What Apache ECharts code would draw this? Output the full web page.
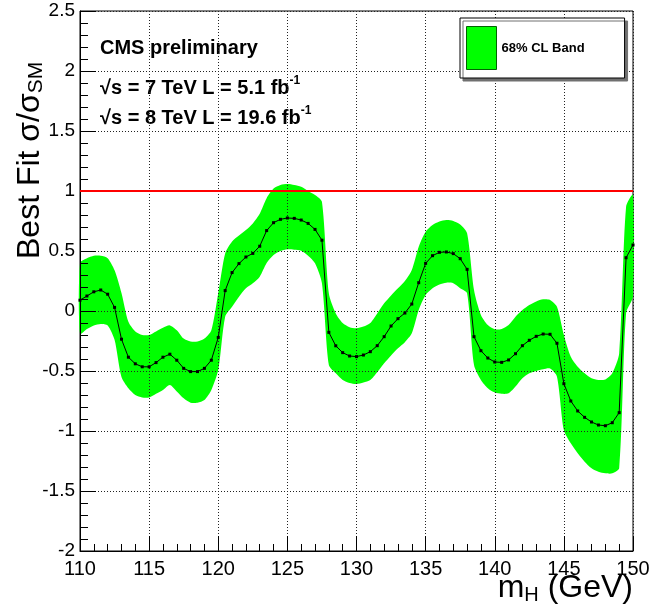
<!DOCTYPE html>
<html>
<head>
<meta charset="utf-8">
<script src="https://cdn.jsdelivr.net/npm/echarts@6/dist/echarts.min.js"></script>
<style>
html,body{margin:0;padding:0;background:#fff;}
#chart{width:653px;height:613px;}
</style>
</head>
<body>
<div id="chart"></div>
<script>
const mass = [110,110.5,111,111.5,112,112.5,113,113.5,114,114.5,
115,115.5,116,116.5,117,117.5,118,118.5,119,119.5,
120,120.5,121,121.5,122,122.5,123,123.5,124,124.5,
125,125.5,126,126.5,127,127.5,128,128.5,129,129.5,
130,130.5,131,131.5,132,132.5,133,133.5,134,134.5,
135,135.5,136,136.5,137,137.5,138,138.5,139,139.5,
140,140.5,141,141.5,142,142.5,143,143.5,144,144.5,
145,145.5,146,146.5,147,147.5,148,148.5,149,149.5,
150];
const bestFit = [0.09,0.125,0.16,0.175,0.14,0.03,-0.235,-0.385,-0.44,-0.465,
-0.465,-0.43,-0.385,-0.36,-0.41,-0.478,-0.505,-0.505,-0.478,-0.41,
-0.22,0.17,0.32,0.395,0.45,0.48,0.54,0.67,0.736,0.764,
0.775,0.772,0.758,0.73,0.68,0.59,-0.178,-0.29,-0.347,-0.375,
-0.38,-0.367,-0.339,-0.289,-0.214,-0.125,-0.064,-0.017,0.058,0.236,
0.397,0.461,0.489,0.492,0.478,0.436,0.347,-0.214,-0.331,-0.392,
-0.425,-0.428,-0.408,-0.356,-0.289,-0.244,-0.211,-0.192,-0.194,-0.269,
-0.606,-0.75,-0.833,-0.886,-0.925,-0.95,-0.956,-0.931,-0.847,0.444,
0.55];
const bandHigh = [0.40,0.44,0.46,0.46,0.44,0.34,0.15,-0.09,-0.17,-0.2,
-0.2,-0.17,-0.14,-0.12,-0.16,-0.23,-0.255,-0.255,-0.23,-0.16,
0.15,0.48,0.58,0.63,0.675,0.73,0.81,0.94,1.02,1.05,
1.058,1.05,1.036,1.0,0.967,0.91,0.147,-0.02,-0.1,-0.135,
-0.144,-0.13,-0.1,-0.02,0.064,0.13,0.189,0.25,0.342,0.536,
0.661,0.717,0.745,0.758,0.75,0.72,0.647,0.175,-0.033,-0.117,
-0.153,-0.15,-0.117,-0.047,0.008,0.05,0.08,0.097,0.092,0.036,
-0.2,-0.381,-0.464,-0.519,-0.561,-0.575,-0.57,-0.519,-0.353,0.869,
0.967];
const bandLow = [-0.19,-0.15,-0.12,-0.108,-0.12,-0.24,-0.55,-0.644,-0.70,-0.72,
-0.72,-0.69,-0.658,-0.617,-0.67,-0.728,-0.764,-0.764,-0.742,-0.658,
-0.49,-0.047,0.036,0.119,0.189,0.231,0.286,0.40,0.467,0.50,
0.514,0.51,0.503,0.46,0.397,0.231,-0.45,-0.519,-0.575,-0.6,
-0.608,-0.595,-0.575,-0.51,-0.436,-0.37,-0.311,-0.26,-0.186,0.008,
0.133,0.189,0.22,0.236,0.231,0.189,0.147,-0.45,-0.575,-0.644,
-0.68,-0.69,-0.686,-0.63,-0.561,-0.519,-0.5,-0.486,-0.48,-0.547,
-0.992,-1.103,-1.186,-1.256,-1.311,-1.34,-1.353,-1.353,-1.311,-0.019,
0.12];
const smLine = [[110,1],[150,1]];
const xRange = [110,150];
const yRange = [-2,2.5];

const FONT = '"Liberation Sans", Arial, sans-serif';
const chart = echarts.init(document.getElementById('chart'), null, {renderer:'canvas'});

const option = {
  animation:false,
  backgroundColor:'#fff',
  grid:{left:80, top:11, width:553, height:540, show:true, borderColor:'#000', borderWidth:1, backgroundColor:'transparent'},
  xAxis:{
    type:'value', min:xRange[0], max:xRange[1], interval:5, z:3,
    axisLine:{show:true, onZero:false, lineStyle:{color:'#000', width:1}},
    axisTick:{show:true, inside:true, length:15, lineStyle:{color:'#000', width:1}},
    minorTick:{show:true, splitNumber:5, length:7, lineStyle:{color:'#000', width:1}},
    splitLine:{show:true, lineStyle:{color:'#222', width:1, type:[1,2]}},
    axisLabel:{color:'#000', fontSize:20, fontFamily:FONT, margin:8}
  },
  yAxis:{
    type:'value', min:yRange[0], max:yRange[1], interval:0.5, z:3,
    axisLine:{show:true, onZero:false, lineStyle:{color:'#000', width:1}},
    axisTick:{show:true, inside:true, length:16, lineStyle:{color:'#000', width:1}},
    minorTick:{show:true, splitNumber:5, length:8, lineStyle:{color:'#000', width:1}},
    splitLine:{show:true, lineStyle:{color:'#222', width:1, type:[1,2]}},
    axisLabel:{color:'#000', fontSize:19, fontFamily:FONT, margin:5}
  },
  legend:{
    show:true, left:460, top:18, orient:'vertical',
    data:[{name:'68% CL Band', icon:'rect'}],
    itemWidth:30, itemHeight:43,
    itemStyle:{borderColor:'#006400', borderWidth:1},
    padding:[8,40,8,6],
    backgroundColor:'#fff', borderColor:'#000', borderWidth:1,
    shadowColor:'#707070', shadowOffsetX:3, shadowOffsetY:3, shadowBlur:0,
    textStyle:{color:'#000', fontWeight:'bold', fontSize:13, fontFamily:FONT}
  },
  series:[
    {
      name:'68% CL Band', type:'custom', z:1,
      itemStyle:{color:'#00ff00'},
      data:[[xRange[0], 0]],
      renderItem:function(params, api){
        if (params.dataIndex !== 0) return;
        const pts = [];
        for (let i=0;i<mass.length;i++) pts.push(api.coord([mass[i], bandHigh[i]]));
        for (let i=mass.length-1;i>=0;i--) pts.push(api.coord([mass[i], bandLow[i]]));
        return {type:'polygon', shape:{points:pts, smooth:0.25}, style:{fill:'#00ff00', stroke:null}};
      }
    },
    {
      name:'SM', type:'line', z:4, data:smLine, symbol:'none',
      lineStyle:{color:'#ff0000', width:2}, silent:true
    },
    {
      name:'Best fit', type:'line', z:5,
      data:mass.map((m,i)=>[m,bestFit[i]]),
      symbol:'rect', symbolSize:3,
      itemStyle:{color:'#000'},
      lineStyle:{color:'#000', width:1}
    }
  ],
  graphic:[
    {type:'text', left:100, top:38, style:{text:'CMS preliminary', font:'bold 20px '+FONT, fill:'#000'}},
    {type:'text', x:100, y:88, style:{
      text:'{n|√s = 7 TeV L = 5.1 fb}{s|-1}',
      verticalAlign:'middle',
      rich:{n:{font:'bold 20px '+FONT, fill:'#000'}, s:{font:'bold 12px '+FONT, fill:'#000', padding:[0,0,14,0]}}
    }},
    {type:'text', x:100, y:118, style:{
      text:'{n|√s = 8 TeV L = 19.6 fb}{s|-1}',
      verticalAlign:'middle',
      rich:{n:{font:'bold 20px '+FONT, fill:'#000'}, s:{font:'bold 12px '+FONT, fill:'#000', padding:[0,0,14,0]}}
    }},
    {type:'text', x:30, y:259, rotation:Math.PI/2, style:{
      text:'{n|Best Fit σ/σ}{s|SM}',
      align:'left', verticalAlign:'middle',
      rich:{n:{font:'32px '+FONT, fill:'#000'}, s:{font:'21px '+FONT, fill:'#000', padding:[12,0,0,0]}}
    }},
    {type:'text', x:633, y:588, style:{
      text:'{n|m}{s|H}{n| (GeV)}',
      align:'right', verticalAlign:'middle',
      rich:{n:{font:'32px '+FONT, fill:'#000'}, s:{font:'20px '+FONT, fill:'#000', padding:[14,0,0,0]}}
    }}
  ]
};
chart.setOption(option);
</script>
</body>
</html>
